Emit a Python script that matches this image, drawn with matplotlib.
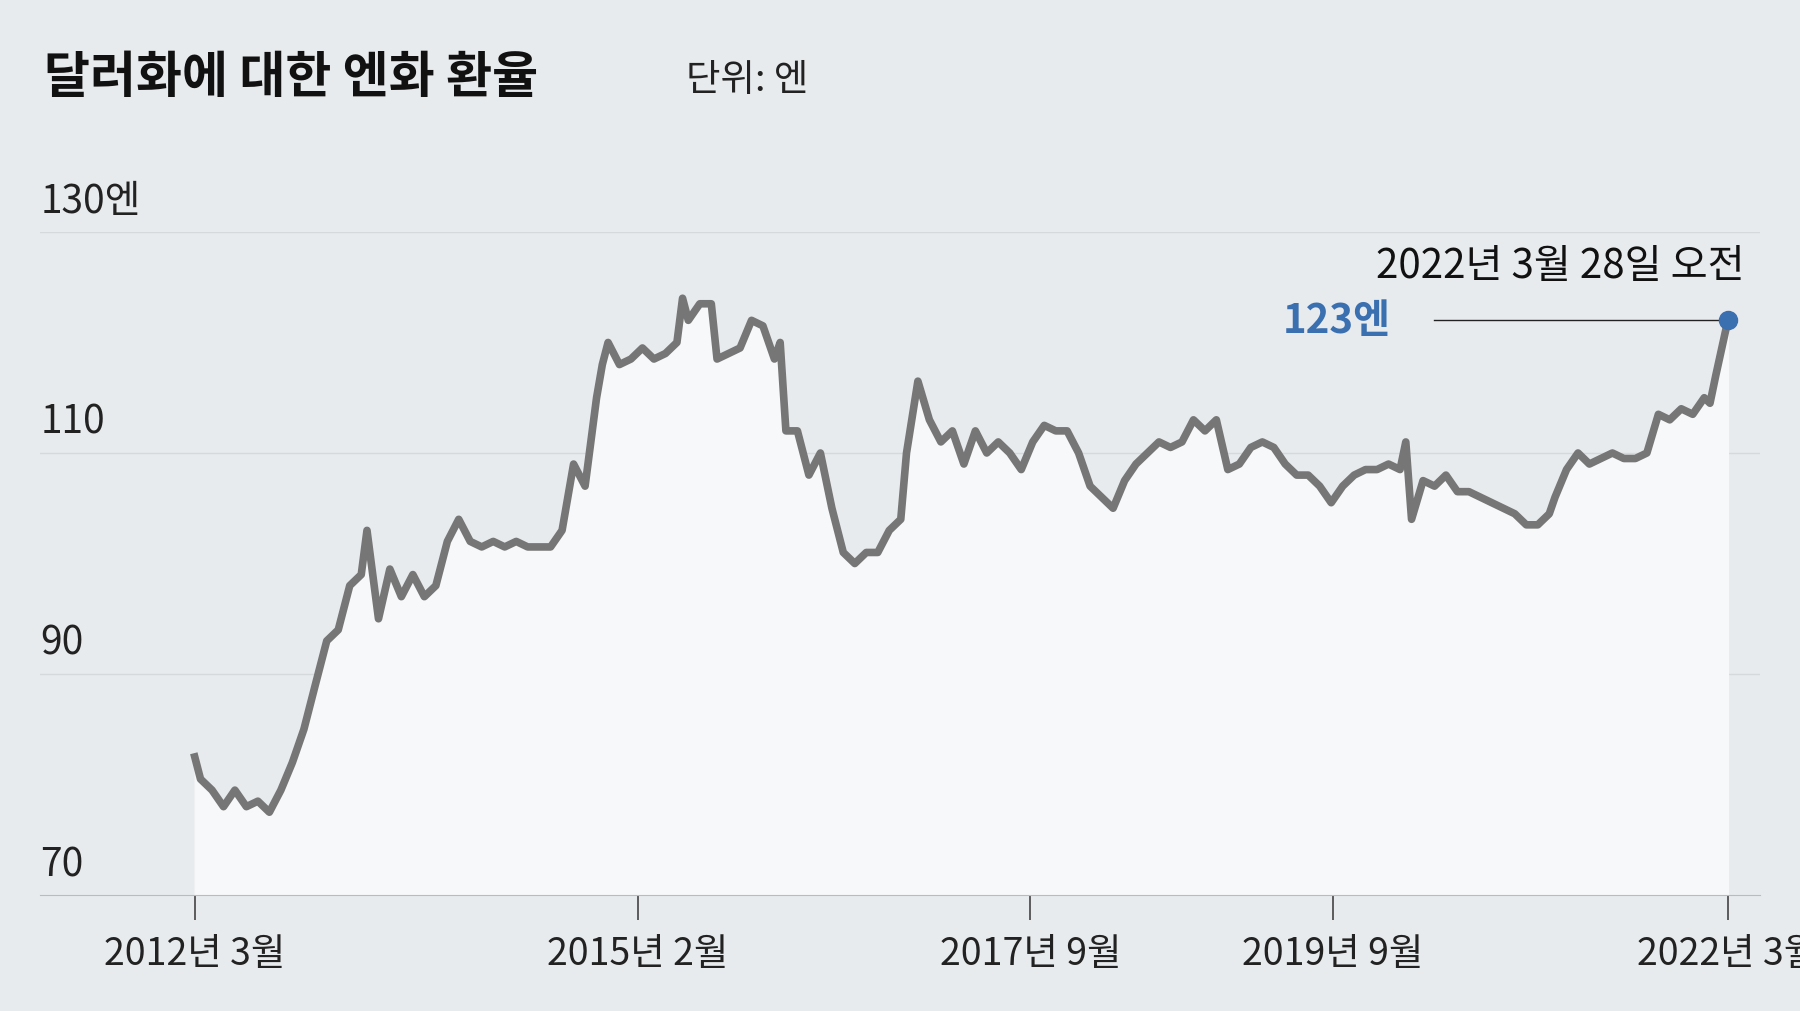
import matplotlib.pyplot as plt

plt.rcParams['font.family'] = ['Noto Sans CJK KR', 'DejaVu Sans']

# date positions, in months since 2012-03
months = [0.0, 0.45, 1.35, 2.25, 3.14, 4.04, 4.94, 5.84, 6.74, 7.64, 8.54, 9.43, 10.33, 11.23, 12.13,
          13.03, 13.48, 14.38, 15.27, 16.17, 17.07, 17.97, 18.87, 19.77, 20.66, 21.56, 22.46, 23.36,
          24.26, 25.16, 26.06, 26.95, 27.85, 28.75, 29.65, 30.55, 31.45, 31.90, 32.35, 33.24, 34.14,
          35.04, 35.94, 36.84, 37.74, 38.18, 38.63, 39.53, 40.43, 40.88, 41.78, 42.68, 43.58, 44.47,
          45.37, 45.82, 46.27, 47.17, 48.07, 48.97, 49.87, 50.76, 51.66, 52.56, 53.46, 54.36, 55.26,
          55.71, 56.60, 57.50, 58.40, 59.30, 60.20, 61.10, 61.99, 62.89, 63.79, 64.69, 65.59, 66.49,
          67.39, 68.28, 69.18, 70.08, 70.98, 71.88, 72.78, 73.67, 74.57, 75.47, 76.37, 77.27, 78.17,
          79.07, 79.96, 80.86, 81.76, 82.66, 83.56, 84.46, 85.35, 86.25, 87.15, 88.05, 88.95, 89.85,
          90.75, 91.64, 92.54, 93.44, 94.34, 94.79, 95.24, 96.14, 97.04, 97.93, 98.83, 99.73, 100.63,
          101.53, 102.43, 103.32, 104.22, 105.12, 106.02, 106.47, 107.37, 108.27, 109.16, 110.06,
          110.96, 111.86, 112.76, 113.66, 114.56, 115.45, 116.35, 117.25, 118.15, 118.60, 119.05, 120.0]
yen = [82.5, 80.5, 79.5, 78.0, 79.5, 78.0, 78.5, 77.5, 79.5, 82.0, 85.0, 89.0, 93.0, 94.0, 98.0,
       99.0, 103.0, 95.0, 99.5, 97.0, 99.0, 97.0, 98.0, 102.0, 104.0, 102.0, 101.5, 102.0,
       101.5, 102.0, 101.5, 101.5, 101.5, 103.0, 109.0, 107.0, 115.0, 118.0, 120.0, 118.0, 118.5,
       119.5, 118.5, 119.0, 120.0, 124.0, 122.0, 123.5, 123.5, 118.5, 119.0, 119.5, 122.0, 121.5,
       118.5, 120.0, 112.0, 112.0, 108.0, 110.0, 105.0, 101.0, 100.0, 101.0, 101.0, 103.0, 104.0,
       110.0, 116.5, 113.0, 111.0, 112.0, 109.0, 112.0, 110.0, 111.0, 110.0, 108.5, 111.0, 112.5,
       112.0, 112.0, 110.0, 107.0, 106.0, 105.0, 107.5, 109.0, 110.0, 111.0, 110.5, 111.0, 113.0,
       112.0, 113.0, 108.5, 109.0, 110.5, 111.0, 110.5, 109.0, 108.0, 108.0, 107.0, 105.5, 107.0,
       108.0, 108.5, 108.5, 109.0, 108.5, 111.0, 104.0, 107.5, 107.0, 108.0, 106.5, 106.5, 106.0,
       105.5, 105.0, 104.5, 103.5, 103.5, 104.5, 106.0, 108.5, 110.0, 109.0, 109.5, 110.0,
       109.5, 109.5, 110.0, 113.5, 113.0, 114.0, 113.5, 115.0, 114.5, 117.0, 122.0]
n = min(len(months), len(yen))
months, yen = months[:n], yen[:n]

tick_pos = [0, 34.7, 65.4, 89.1, 120.0]
tick_labels = ['2012년 3월', '2015년 2월', '2017년 9월', '2019년 9월', '2022년 3월']
y_ticks = [70, 90, 110, 130]
y_labels = ['70', '90', '110', '130엔']

bg = '#e8ebed'
fig = plt.figure(figsize=(18, 10.12), dpi=100, facecolor=bg)
ax = fig.add_axes([35/1568, 101/882, 1498/1568, 578/882], facecolor=bg)
ax.set_xlim(-12.1, 122.5)
ax.set_ylim(70, 130)

for v in y_ticks[1:]:
    ax.axhline(v, color='#d6d9dc', lw=1, zorder=1)
ax.fill_between(months, yen, 70, color='#f7f8fa', zorder=2)
ax.plot(months, yen, color='#767676', lw=5.5, solid_joinstyle='round', zorder=3)
ax.plot(months[-1], yen[-1], 'o', color='#3a6fb0', ms=13, zorder=4)
ax.plot([(1250-170)/11.13, months[-1]], [yen[-1], yen[-1]], color='#222', lw=1, zorder=3)

for v, t in zip(y_ticks, y_labels):
    ax.text(-12.1, v + 1.0, t, fontsize=28, color='#222', va='bottom', ha='left')

ax.set_yticks([])
ax.set_xticks(tick_pos)
ax.set_xticklabels(tick_labels, fontsize=27, color='#222')
ax.tick_params(axis='x', length=18, width=1.2, color='#444', pad=10)
for s in ['top', 'right', 'left']:
    ax.spines[s].set_visible(False)
ax.spines['bottom'].set_color('#bbbbbb')

ax.text(121.3, 127.0, '2022년 3월 28일 오전', fontsize=29, ha='right', va='center', color='#111')
ax.text((1118-170)/11.13, yen[-1], '123엔', fontsize=29, fontweight='bold', ha='left', va='center',
        color='#3a6fb0')

fig.text(38/1568, 1-68/882, '달러화에 대한 엔화 환율', fontsize=36, fontweight='bold', va='center', color='#111')
fig.text(598/1568, 1-70/882, '단위: 엔', fontsize=27, va='center', color='#222')

fig.savefig('out.png', facecolor=bg)
